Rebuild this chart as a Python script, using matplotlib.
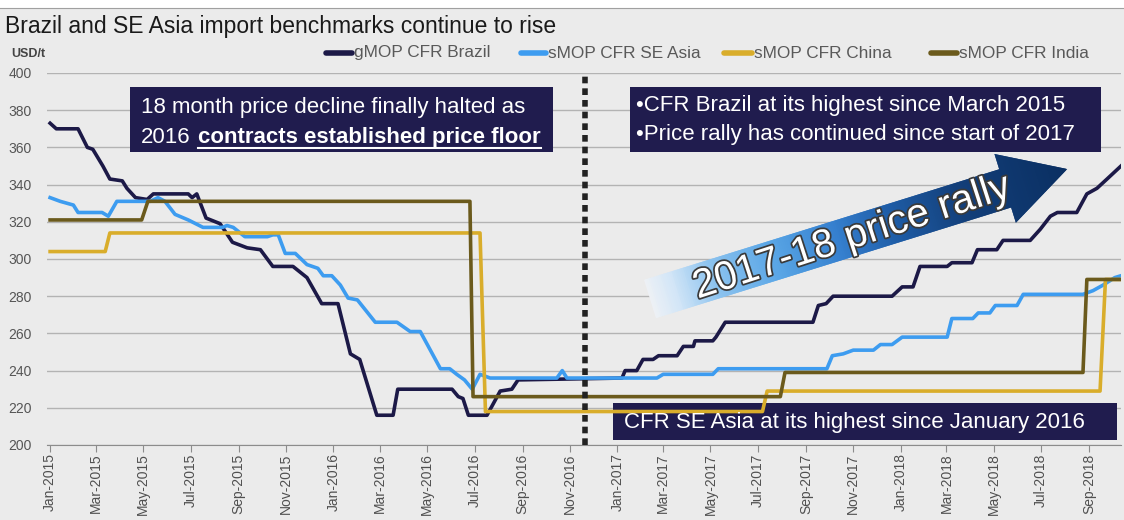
import numpy as np
import pandas as pd
import matplotlib
matplotlib.use('Agg')
import matplotlib.pyplot as plt
import matplotlib.dates as mdates
import matplotlib.transforms as mtransforms
from matplotlib.patches import Polygon, Rectangle
from matplotlib.collections import PolyCollection
from matplotlib.colors import LinearSegmentedColormap
from matplotlib.lines import Line2D
import matplotlib.patheffects as pe

plt.rcParams['font.family'] = ['Liberation Sans', 'DejaVu Sans']

# ---------------- data ----------------
brazil_dates = ['2015-01-01', '2015-01-09', '2015-02-06', '2015-02-18', '2015-02-25', '2015-03-10',
                '2015-03-19', '2015-04-04', '2015-04-10', '2015-04-21', '2015-05-06', '2015-05-14',
                '2015-06-28', '2015-07-03', '2015-07-09', '2015-07-21', '2015-08-08', '2015-08-24',
                '2015-09-12', '2015-09-29', '2015-10-15', '2015-11-10', '2015-11-28', '2015-12-17',
                '2016-01-07', '2016-01-23', '2016-02-04', '2016-02-26', '2016-03-18', '2016-03-24',
                '2016-06-02', '2016-06-10', '2016-06-16', '2016-06-23', '2016-07-17', '2016-08-03',
                '2016-08-18', '2016-08-26', '2017-01-07', '2017-01-11', '2017-01-26', '2017-02-03',
                '2017-02-16', '2017-02-23', '2017-03-19', '2017-03-27', '2017-04-09', '2017-04-11',
                '2017-05-04', '2017-05-08', '2017-05-20', '2017-09-10', '2017-09-17', '2017-09-27',
                '2017-10-06', '2017-12-21', '2018-01-03', '2018-01-17', '2018-01-26', '2018-03-02',
                '2018-03-08', '2018-04-03', '2018-04-10', '2018-05-05', '2018-05-13', '2018-06-17',
                '2018-06-30', '2018-07-13', '2018-07-22', '2018-08-16', '2018-08-29', '2018-09-11',
                '2018-09-24', '2018-10-12']
brazil_vals = [373, 370, 370, 360, 359, 350,
               343, 342, 338, 333, 332, 335,
               335, 333, 335, 322, 319, 309,
               306, 305, 296, 296, 290, 276,
               276, 249, 246, 216, 216, 230,
               230, 226, 225, 216, 216, 229,
               230, 235, 236, 240, 240, 246,
               246, 248, 248, 253, 253, 256,
               256, 258, 266, 266, 275, 276,
               280, 280, 285, 285, 296, 296,
               298, 298, 305, 305, 310, 310,
               316, 323, 325, 325, 335, 338,
               343, 350]

seasia_dates = ['2015-01-01', '2015-01-14', '2015-01-31', '2015-02-06', '2015-03-09', '2015-03-17',
                '2015-03-28', '2015-05-10', '2015-05-20', '2015-05-29', '2015-06-11', '2015-06-28',
                '2015-07-17', '2015-08-11', '2015-08-17', '2015-08-25', '2015-09-09', '2015-10-08',
                '2015-10-15', '2015-10-22', '2015-10-31', '2015-11-13', '2015-11-28', '2015-12-12',
                '2015-12-19', '2015-12-30', '2016-01-10', '2016-01-20', '2016-02-01', '2016-02-24',
                '2016-03-23', '2016-04-09', '2016-04-22', '2016-05-18', '2016-05-30', '2016-06-08',
                '2016-06-18', '2016-06-28', '2016-07-08', '2016-07-21', '2016-10-15', '2016-10-22',
                '2016-10-28', '2017-02-21', '2017-03-01', '2017-05-04', '2017-05-11', '2017-09-28',
                '2017-10-05', '2017-10-19', '2017-11-01', '2017-11-27', '2017-12-06', '2017-12-21',
                '2018-01-03', '2018-03-02', '2018-03-08', '2018-04-04', '2018-04-11', '2018-04-26',
                '2018-05-03', '2018-05-31', '2018-06-08', '2018-08-24', '2018-09-06', '2018-09-19',
                '2018-10-04', '2018-10-12']
seasia_vals = [333, 331, 329, 325, 325, 323,
               331, 331, 333, 331, 324, 321,
               317, 317, 318, 317, 312, 312,
               313, 313, 303, 303, 297, 295,
               291, 291, 286, 279, 278, 266,
               266, 261, 261, 241, 241, 238,
               235, 230, 238, 236, 236, 240,
               236, 236, 238, 238, 241, 241,
               248, 249, 251, 251, 254, 254,
               258, 258, 268, 268, 271, 271,
               275, 275, 281, 281, 283, 286,
               290, 291]

china_dates = ['2015-01-01', '2015-03-13', '2015-03-19', '2016-07-08', '2016-07-15',
               '2017-07-07', '2017-07-13', '2018-09-15', '2018-09-22', '2018-10-12']
china_vals = [304, 304, 314, 314, 218, 218, 229, 229, 289, 289]

india_dates = ['2015-01-01', '2015-04-29', '2015-05-07', '2016-06-25', '2016-06-29',
               '2017-07-30', '2017-08-05', '2018-08-24', '2018-08-29', '2018-10-12']
india_vals = [321, 321, 331, 331, 226, 226, 239, 239, 289, 289]

series_names = ['gMOP CFR Brazil', 'sMOP CFR SE Asia', 'sMOP CFR China', 'sMOP CFR India']
series_colors = ['#1c1947', '#3d9cf0', '#d9ad2b', '#6b5a1c']
y_ticks = list(range(200, 401, 20))
divider_date = '2016-11-20'

title = 'Brazil and SE Asia import benchmarks continue to rise'
unit_label = 'USD/t'

# ---------------- figure ----------------
W, H = 1124, 520
BG = '#ebebeb'
fig = plt.figure(figsize=(W / 100, H / 100), dpi=100, facecolor=BG)
# pixel transform (x right, y down, in figure pixels)
px = mtransforms.Affine2D().scale(1 / W, -1 / H).translate(0, 1) + fig.transFigure

# top white band and rule
fig.add_artist(Rectangle((0, 0), W, 9, transform=px, facecolor='white', edgecolor='none'))
fig.add_artist(Line2D([0, W], [8, 8], transform=px, color='#a0a0a0', lw=0.8))

ax = fig.add_axes([47 / W, 75 / H, (1121 - 47) / W, 372 / H])
ax.set_facecolor('none')

all_series = [(brazil_dates, brazil_vals), (seasia_dates, seasia_vals),
              (china_dates, china_vals), (india_dates, india_vals)]
for (d, v), c in zip(all_series, series_colors):
    ax.plot(pd.to_datetime(d), v, color=c, lw=2.6, zorder=2, solid_joinstyle='round')

ax.set_xlim(pd.Timestamp('2014-12-28'), pd.Timestamp('2018-10-12'))
ax.set_ylim(200, 400)
ax.set_yticks(y_ticks)
ax.yaxis.grid(True, color='#b3b3b3', lw=1)
ax.set_axisbelow(True)
for s in ['top', 'right', 'left']:
    ax.spines[s].set_visible(False)
ax.spines['bottom'].set_color('#8c8c8c')
ax.xaxis.set_major_locator(mdates.MonthLocator(bymonth=[1, 3, 5, 7, 9, 11]))
ax.xaxis.set_major_formatter(mdates.DateFormatter('%b-%Y'))
ax.tick_params(axis='y', length=0, pad=11, labelsize=10, labelcolor='#555555')
ax.tick_params(axis='x', length=5, color='#8c8c8c', pad=1, labelsize=10,
               labelcolor='#505050', labelrotation=90)

# dotted divider
ax.axvline(pd.Timestamp(divider_date), color='#222222', lw=4, dashes=(1.2, 0.9),
           dash_capstyle='butt', zorder=4)

# ---------------- titles & legend ----------------
fig.text(5 / W, 1 - 33 / H, title, fontsize=16.5, color='#1a1a1a', va='baseline', ha='left')
fig.text(11 / W, 1 - 57 / H, unit_label, fontsize=9, fontweight='bold', color='#444444',
         va='baseline', ha='left')

legend_pos = [(326, 352), (521, 546), (724, 752), (931, 957)]
for (x0, x1), name, c in zip(legend_pos, series_names, series_colors):
    fig.add_artist(Line2D([x0, x1], [53, 53], transform=px, color=c, lw=4,
                          solid_capstyle='round'))
    fig.text((x1 + 2) / W, 1 - 53 / H, name, fontsize=12.4, color='#595959',
             va='center', ha='left')

# ---------------- annotation boxes ----------------
BOX = '#201c4e'
for (x0, y0, x1, y1) in [(130, 87, 553, 152), (630, 87, 1101, 152), (613, 403, 1117, 440)]:
    ax.add_artist(Rectangle((x0, y0), x1 - x0, y1 - y0, transform=px, facecolor=BOX,
                            edgecolor='none', zorder=1.5))

tkw = dict(transform=px, color='white', fontsize=16, va='baseline', ha='left', zorder=3)
ax.text(141, 113, '18 month price decline finally halted as', **tkw)
ax.text(141, 143, '2016', **tkw)
tb = ax.text(198, 143, 'contracts established price floor', fontweight='bold', **tkw)
ax.text(636, 111, '\u2022CFR Brazil at its highest since March 2015', **tkw)
ax.text(636, 140, '\u2022Price rally has continued since start of 2017', **tkw)
ax.text(624, 428, 'CFR SE Asia at its highest since January 2016', **tkw)

# ---------------- gradient arrow ----------------
ang = np.deg2rad(17.3)
u = np.array([np.cos(ang), -np.sin(ang)])
n = np.array([np.sin(ang), np.cos(ang)])
T = np.array([650.0, 299.0])
L1, LH, hw, hh = 372.0, 65.0, 20.0, 36.0
B = T + L1 * u
tip = T + (L1 + LH) * u
arrow_pts = [T - hw * n, B - hw * n, B - hh * n, tip, B + hh * n, B + hw * n, T + hw * n]
arrow_patch = Polygon(arrow_pts, closed=True, transform=px, facecolor='none', edgecolor='none')

cmap = LinearSegmentedColormap.from_list('rally', [
    (0.0, '#eef1f5'), (0.06, '#d3e6f7'), (0.15, '#8ec4ef'), (0.30, '#5aa6e6'),
    (0.45, '#3680cf'), (0.58, '#1f5ea8'), (0.75, '#133f7a'), (1.0, '#0a2f62')])
N = 220
total = L1 + LH
quads, cols = [], []
for i in range(N):
    s0 = total * i / N - 1
    s1 = total * (i + 1) / N + 1
    p0, p1 = T + s0 * u, T + s1 * u
    quads.append([p0 - 45 * n, p1 - 45 * n, p1 + 45 * n, p0 + 45 * n])
    cols.append(cmap((i + 0.5) / N))
grad = PolyCollection(quads, facecolors=cols, edgecolors='none', transform=px, zorder=1.6)
grad.set_clip_path(arrow_patch)
ax.add_artist(grad)

ax.text(852, 237, '2017-18 price rally', transform=px, fontsize=29, color='white',
        ha='center', va='center', rotation=18, rotation_mode='anchor', zorder=3,
        path_effects=[pe.Stroke(linewidth=2.5, foreground='#3a3a3a'), pe.Normal()])

# underline for the bold phrase
fig.canvas.draw()
bb = tb.get_window_extent(renderer=fig.canvas.get_renderer())
ax.add_artist(Line2D([bb.x0, bb.x1], [148, 148], transform=px, color='white', lw=1.5,
                     zorder=3))

fig.savefig('out.png', dpi=100, facecolor=BG)
